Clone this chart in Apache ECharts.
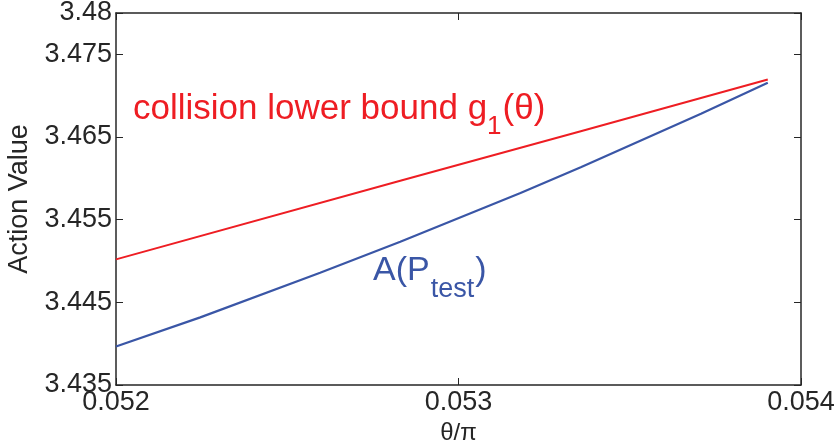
<!DOCTYPE html>
<html>
<head>
<meta charset="utf-8">
<script src="https://cdn.jsdelivr.net/npm/echarts@6/dist/echarts.min.js"></script>
<style>
  html, body { margin: 0; padding: 0; background: #fff; }
  #main { width: 838px; height: 445px; }
</style>
</head>
<body>
<div id="main"></div>
<script>
// theta/pi values and the two curves
var thetaBlue = [0.052, 0.052246, 0.052596, 0.052830, 0.053181, 0.053357, 0.053708, 0.053903];
var actionBlue = [3.43966, 3.44318, 3.44858, 3.45232, 3.45823, 3.46135, 3.46781, 3.47155];
var thetaRed = [0.052, 0.052830, 0.053357, 0.053903];
var actionRed = [3.45020, 3.45970, 3.46570, 3.47195];
var xTicks = [0.052, 0.053, 0.054];
var yTicks = [3.435, 3.445, 3.455, 3.465, 3.475, 3.48];

var axisColor = '#262626';
var fontFam = 'Liberation Sans, Arial, sans-serif';

function pairs(xs, ys) {
	return xs.map(function(x, i) { return [x, ys[i]]; });
}
function fmt(v) {
	return String(+v.toFixed(4));
}

var myChart = echarts.init(document.getElementById('main'));

var baseX = {
	type: 'value',
	min: 0.052,
	max: 0.054,
	splitLine: { show: false },
	axisLine: { show: true, onZero: false, lineStyle: { color: axisColor, width: 1.5 } },
	axisTick: { show: true, inside: true, length: 7, customValues: xTicks, lineStyle: { color: axisColor, width: 1 } }
};
var baseY = {
	type: 'value',
	min: 3.435,
	max: 3.48,
	splitLine: { show: false },
	axisLine: { show: true, onZero: false, lineStyle: { color: axisColor, width: 1.5 } },
	axisTick: { show: true, inside: true, length: 7, customValues: yTicks, lineStyle: { color: axisColor, width: 1 } }
};

var option = {
	backgroundColor: '#fff',
	animation: false,
	grid: { left: 116, right: 37, top: 13, bottom: 60, containLabel: false, outerBoundsMode: 'none' },
	xAxis: [
		Object.assign({}, baseX, {
			position: 'bottom',
			name: 'θ/π',
			nameLocation: 'middle',
			nameGap: 33,
			nameTextStyle: { fontSize: 24, color: axisColor, fontFamily: fontFam },
			axisLabel: { show: true, customValues: xTicks, formatter: fmt, margin: 4, fontSize: 27, color: axisColor, fontFamily: fontFam }
		}),
		Object.assign({}, baseX, { position: 'top', axisLabel: { show: false } })
	],
	yAxis: [
		Object.assign({}, baseY, {
			position: 'left',
			name: 'Action Value',
			nameLocation: 'middle',
			nameGap: 71,
			nameTextStyle: { fontSize: 27, color: axisColor, fontFamily: fontFam },
			axisLabel: { show: true, customValues: yTicks, formatter: fmt, margin: 4, fontSize: 27, color: axisColor, fontFamily: fontFam }
		}),
		Object.assign({}, baseY, { position: 'right', axisLabel: { show: false } })
	],
	series: [
		{
			name: 'collision lower bound',
			type: 'line',
			data: pairs(thetaRed, actionRed),
			showSymbol: false,
			lineStyle: { color: '#ee1d23', width: 2 }
		},
		{
			name: 'A(P_test)',
			type: 'line',
			data: pairs(thetaBlue, actionBlue),
			showSymbol: false,
			smooth: false,
			lineStyle: { color: '#3a56a6', width: 2.2 }
		}
	],
	graphic: [
		{
			type: 'text',
			left: 133,
			top: 92,
			style: {
				text: '{b|collision lower bound g}{s|1}{b|(θ)}',
				fill: '#ee1d23',
				rich: {
					b: { fontSize: 35, fontFamily: fontFam, fill: '#ee1d23', lineHeight: 44, verticalAlign: 'top' },
					s: { fontSize: 26, fontFamily: fontFam, fill: '#ee1d23', lineHeight: 28, padding: [22, 1, 0, 0], verticalAlign: 'top' }
				}
			}
		},
		{
			type: 'text',
			left: 373,
			top: 254,
			style: {
				text: '{b|A(P}{s|test}{b|)}',
				fill: '#3a56a6',
				rich: {
					b: { fontSize: 34, fontFamily: fontFam, fill: '#3a56a6', lineHeight: 44, verticalAlign: 'top' },
					s: { fontSize: 27, fontFamily: fontFam, fill: '#3a56a6', lineHeight: 28, padding: [22, 1, 0, 1], verticalAlign: 'top' }
				}
			}
		}
	]
};

myChart.setOption(option);
</script>
</body>
</html>
